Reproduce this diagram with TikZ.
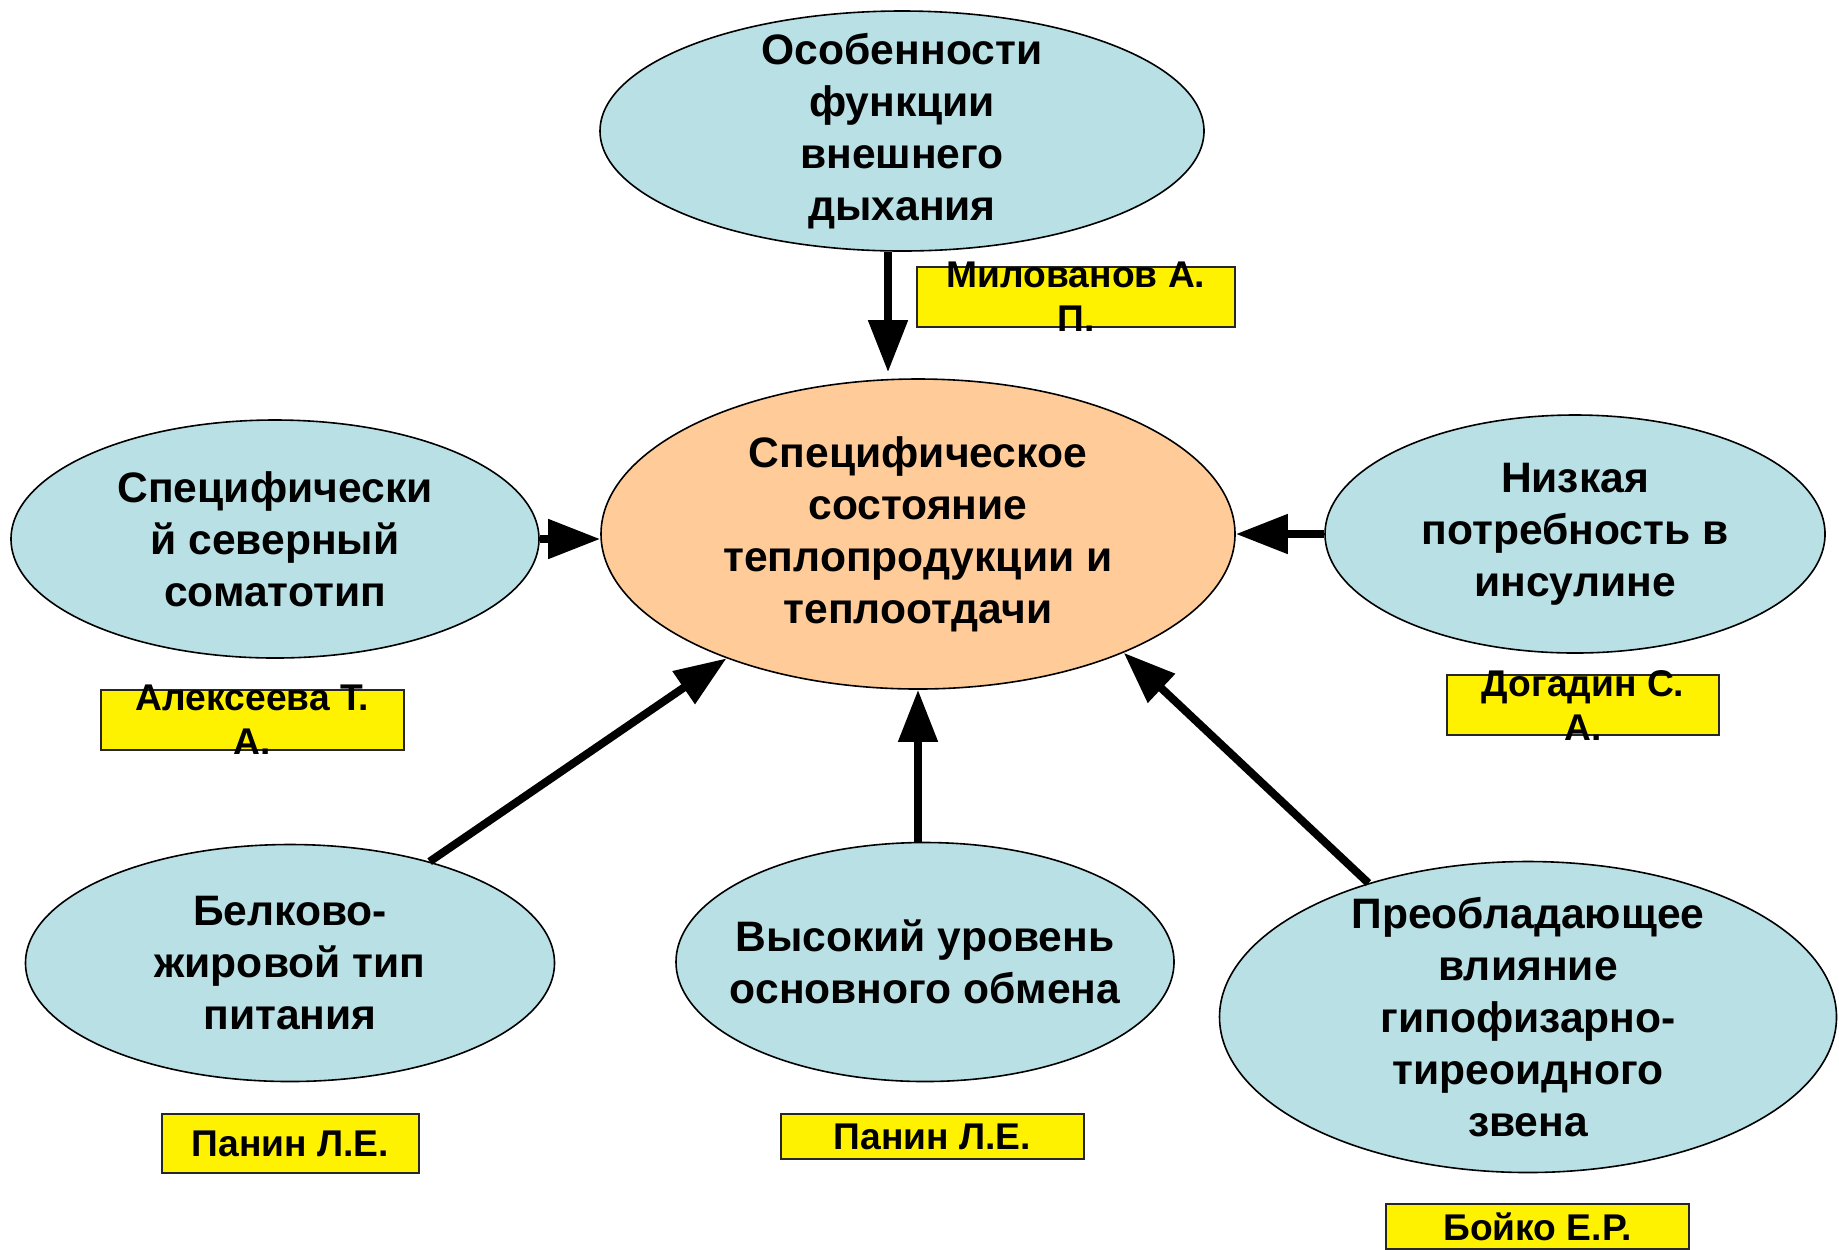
\documentclass[tikz,border=0pt]{standalone}
\usepackage{fontspec}
\setmainfont{Liberation Sans}
\usetikzlibrary{shapes.geometric,arrows.meta}

\definecolor{azul}{RGB}{185,224,228}
\definecolor{melocoton}{RGB}{255,204,153}

\tikzset{
  idea/.style={ellipse, draw=black, line width=0.8pt, fill=azul, inner xsep=-40pt, inner ysep=-40pt, align=center,
    font=\fontsize{21.3}{26}\selectfont\bfseries},
  centro/.style={idea, fill=melocoton},
  autorbox/.style={draw=black!85, line width=1pt, fill=yellow, inner sep=0pt},
  autor/.style={align=center, inner sep=0pt, font=\fontsize{18.6}{22}\selectfont\bfseries},
  flecha/.style={line width=4pt, -{Triangle[length=26pt,width=19pt]}}
}

\begin{document}
\begin{tikzpicture}[x=0.5pt,y=-0.5pt]
    \useasboundingbox (0,0) rectangle (1839,1249);

    % Dibuja la elipse central
    \node[centro, minimum width=317pt, minimum height=155pt] (core) at (918,534) {Специфическое\\состояние\\теплопродукции и\\теплоотдачи};

    % Dibuja las elipses de los factores
    \node[idea, minimum width=302pt, minimum height=120pt] (resp) at (902,131) {Особенности\\функции\\внешнего\\дыхания};
    \node[idea, minimum width=264pt, minimum height=119pt] (soma) at (275,539) {Специфически\\й северный\\соматотип};
    \node[idea, minimum width=250pt, minimum height=119pt] (insul) at (1575,534) {Низкая\\потребность в\\инсулине};
    \node[idea, minimum width=264.5pt, minimum height=118.5pt] (diet) at (290,963) {Белково-\\жировой тип\\питания};
    \node[idea, minimum width=249pt, minimum height=119.5pt] (metab) at (925,962) {Высокий уровень\\основного обмена};
    \node[idea, minimum width=308.5pt, minimum height=155.5pt] (hypo) at (1528,1017) {Преобладающее\\влияние\\гипофизарно-\\тиреоидного\\звена};

    % Dibuja los recuadros de autores
    \node[autorbox, minimum width=159pt, minimum height=30pt] (milbox) at (1076,297) {};
    \node[autor] (miltxt) at (milbox) {Милованов А.\\П.};
    \node[autorbox, minimum width=151.5pt, minimum height=30pt] (alekbox) at (252.5,720) {};
    \node[autor] (alektxt) at (alekbox) {Алексеева Т.\\А.};
    \node[autorbox, minimum width=136pt, minimum height=30pt] (dogbox) at (1583,705) {};
    \node[autor] (dogtxt) at (dogbox) {Догадин С.\\А.};
    \node[autorbox, minimum width=128.5pt, minimum height=29.5pt] (pan1box) at (290.5,1143.5) {};
    \node[autor] (pan1txt) at (pan1box) {Панин Л.Е.};
    \node[autorbox, minimum width=151.5pt, minimum height=22.5pt] (pan2box) at (932.5,1136.5) {};
    \node[autor] (pan2txt) at (pan2box) {Панин Л.Е.};
    \node[autorbox, minimum width=151.5pt, minimum height=22.5pt] (boibox) at (1537.5,1226.5) {};
    \node[autor] (boitxt) at (boibox) {Бойко Е.Р.};

    % Dibuja las flechas hacia el centro
    \draw[flecha, shorten >=3pt] ([xshift=-7pt]resp.south) -- ([xshift=-7pt]resp.south |- core.north);
    \draw[flecha] (soma.east) -- (soma.east -| core.west);
    \draw[flecha] (insul.west) -- (insul.west -| core.east);
    \draw[flecha] (core.south |- metab.north) -- (core.south);
    \draw[flecha] (diet.36) -- (core.213);
    \draw[flecha] (hypo.140) -- (core.330);
\end{tikzpicture}
\end{document}
